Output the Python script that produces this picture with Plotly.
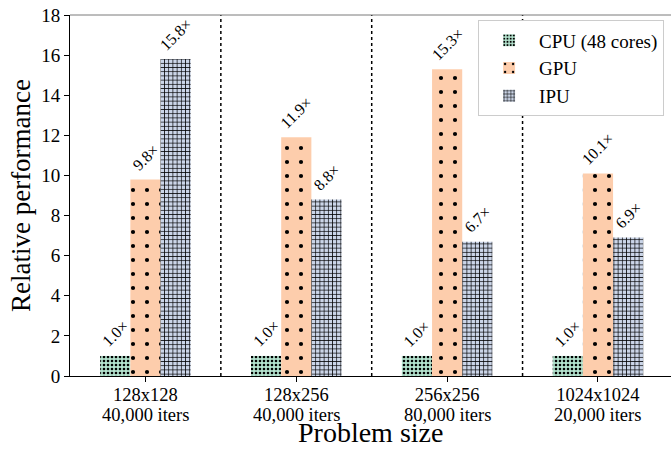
import plotly.graph_objects as go

# Problem sizes and speed-ups relative to the 48-core CPU run
sizes = ["128x128", "128x256", "256x256", "1024x1024"]
iters = ["40,000 iters", "40,000 iters", "80,000 iters", "20,000 iters"]
cpu = [1.0, 1.0, 1.0, 1.0]
gpu = [9.8, 11.9, 15.3, 10.1]
ipu = [15.8, 8.8, 6.7, 6.9]

series = [
    ("CPU (48 cores)", cpu, "#b3e2cd", dict(shape=".", size=4, solidity=0.33)),
    ("GPU", gpu, "#fdcdac", dict(shape=".", size=14, solidity=0.07)),
    ("IPU", ipu, "#cbd5e8", dict(shape="+", size=4.2, solidity=0.3)),
]
offsets = [-0.2, 0.0, 0.2]

FONT = "Liberation Serif"
xpos = list(range(len(sizes)))

fig = go.Figure()
for name, vals, color, pat in series:
    fig.add_trace(go.Bar(
        x=xpos, y=vals, name=name,
        marker=dict(color=color, line=dict(width=0),
                    pattern=dict(fgcolor="black", fgopacity=1, bgcolor=color, **pat)),
    ))

annotations = []
# rotated value labels above each bar
for (name, vals, color, pat), off in zip(series, offsets):
    for i, v in enumerate(vals):
        annotations.append(dict(
            x=i + off, y=v, xref="x", yref="y",
            text=f"{v:.1f}×", showarrow=False, textangle=-45,
            xanchor="center", yanchor="bottom", yshift=3,
            font=dict(family=FONT, size=16, color="black"),
        ))

# second line of each category label (iteration count)
for i, it in enumerate(iters):
    annotations.append(dict(
        x=i, y=0, xref="x", yref="paper", text=it, showarrow=False,
        xanchor="center", yanchor="top", yshift=-28, borderpad=0,
        font=dict(family=FONT, size=18.5, color="black"),
    ))

# x-axis title, sitting on the bottom edge of the figure
annotations.append(dict(
    x=0.5, y=0, xref="paper", yref="paper", text="Problem size", showarrow=False,
    xanchor="center", yanchor="bottom", yshift=-73, borderpad=0,
    font=dict(family=FONT, size=28, color="black"),
))

# dotted separators between problem sizes, plus the top spine
shapes = [dict(type="line", xref="x", yref="paper", x0=i + 0.5, x1=i + 0.5, y0=0, y1=1,
               line=dict(color="black", width=1.5, dash="dot"))
          for i in range(len(sizes) - 1)]
shapes.append(dict(type="line", xref="paper", yref="paper", x0=0, x1=1, y0=1, y1=1,
                   line=dict(color="#7a7a7a", width=1)))

fig.update_layout(
    width=671, height=449,
    margin=dict(l=70, r=0, t=15, b=73),
    paper_bgcolor="white", plot_bgcolor="white",
    barmode="group", bargap=0.4, bargroupgap=0,
    font=dict(family=FONT, size=19, color="black"),
    annotations=annotations, shapes=shapes,
    legend=dict(x=0.679, y=0.985, xanchor="left", yanchor="top",
                bordercolor="#cccccc", borderwidth=1, bgcolor="white",
                font=dict(family=FONT, size=19), tracegroupgap=0,
                itemwidth=50),
    xaxis=dict(
        range=[-0.5, 3.484], tickmode="array", tickvals=xpos, ticktext=sizes,
        showline=True, linecolor="black", linewidth=1,
        ticks="outside", ticklen=5, tickcolor="black", showgrid=False, zeroline=False,
        tickfont=dict(family=FONT, size=18.5), ticklabelstandoff=-3,
    ),
    yaxis=dict(
        range=[0, 18], tickmode="linear", tick0=0, dtick=2,
        showline=True, linecolor="black", linewidth=1,
        ticks="outside", ticklen=5, tickcolor="black", showgrid=False, zeroline=False,
        tickfont=dict(family=FONT, size=19),
        title=dict(text="Relative performance", font=dict(family=FONT, size=27), standoff=2),
    ),
)

fig.write_html("out.html")
